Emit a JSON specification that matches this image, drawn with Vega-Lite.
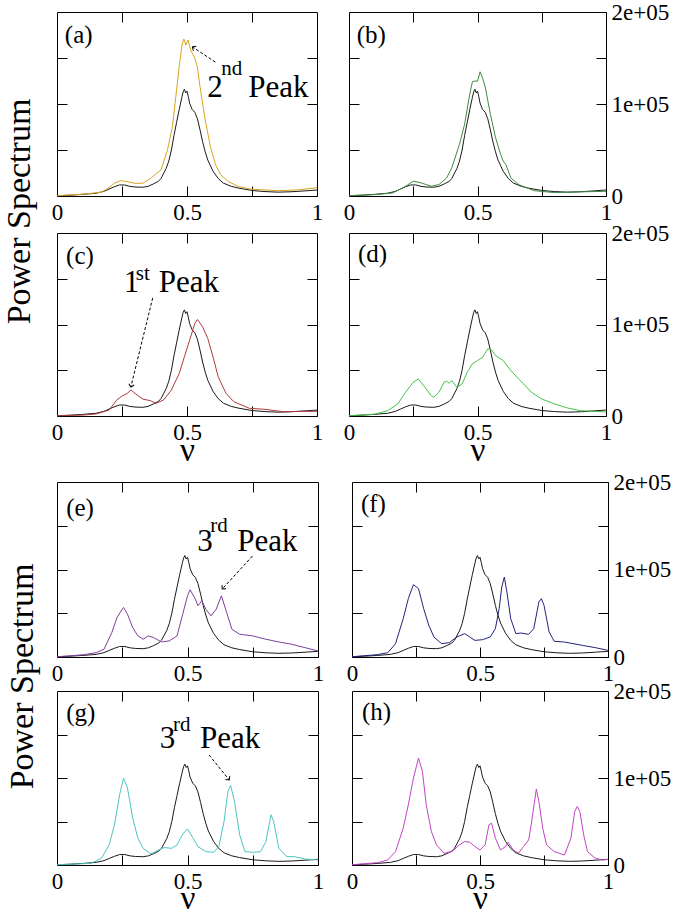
{
"$schema": "https://vega.github.io/schema/vega-lite/v6.json",
"padding": {"left": 1, "top": 0, "right": 5, "bottom": 0},
"background": "white",
"datasets": {
"ref": [{"nu":0,"p":300},{"nu":0.05,"p":900},{"nu":0.1,"p":1800},{"nu":0.15,"p":3000},{"nu":0.18,"p":5000},{"nu":0.2,"p":7500},{"nu":0.22,"p":10000},{"nu":0.24,"p":12000},{"nu":0.26,"p":12000},{"nu":0.28,"p":10500},{"nu":0.3,"p":9800},{"nu":0.33,"p":9500},{"nu":0.35,"p":10500},{"nu":0.37,"p":13000},{"nu":0.39,"p":16000},{"nu":0.4,"p":19000},{"nu":0.42,"p":30000},{"nu":0.43,"p":38000},{"nu":0.44,"p":50000},{"nu":0.45,"p":66000},{"nu":0.46,"p":80000},{"nu":0.47,"p":94000},{"nu":0.48,"p":107000},{"nu":0.485,"p":113000},{"nu":0.49,"p":116000},{"nu":0.495,"p":112000},{"nu":0.5,"p":114000},{"nu":0.505,"p":108000},{"nu":0.51,"p":101000},{"nu":0.52,"p":94000},{"nu":0.53,"p":91000},{"nu":0.54,"p":84000},{"nu":0.55,"p":72000},{"nu":0.56,"p":59000},{"nu":0.57,"p":48000},{"nu":0.58,"p":39000},{"nu":0.6,"p":27000},{"nu":0.62,"p":19000},{"nu":0.64,"p":14000},{"nu":0.67,"p":10500},{"nu":0.7,"p":8500},{"nu":0.75,"p":6000},{"nu":0.8,"p":4800},{"nu":0.85,"p":4200},{"nu":0.9,"p":4600},{"nu":0.95,"p":5500},{"nu":1,"p":6500}],
"a": [{"nu":0,"p":300},{"nu":0.1,"p":2000},{"nu":0.17,"p":4000},{"nu":0.2,"p":9000},{"nu":0.22,"p":13800},{"nu":0.245,"p":16700},{"nu":0.27,"p":15600},{"nu":0.3,"p":13800},{"nu":0.33,"p":13800},{"nu":0.36,"p":19200},{"nu":0.38,"p":24000},{"nu":0.4,"p":28300},{"nu":0.425,"p":50100},{"nu":0.444,"p":75500},{"nu":0.457,"p":108000},{"nu":0.47,"p":140800},{"nu":0.482,"p":166000},{"nu":0.488,"p":170600},{"nu":0.496,"p":164000},{"nu":0.504,"p":169500},{"nu":0.515,"p":158000},{"nu":0.53,"p":150000},{"nu":0.54,"p":140000},{"nu":0.55,"p":119000},{"nu":0.57,"p":82800},{"nu":0.59,"p":53700},{"nu":0.61,"p":33800},{"nu":0.63,"p":22900},{"nu":0.66,"p":15600},{"nu":0.7,"p":10000},{"nu":0.75,"p":7300},{"nu":0.85,"p":5800},{"nu":0.92,"p":6500},{"nu":1,"p":9000}],
"b": [{"nu":0,"p":300},{"nu":0.1,"p":1500},{"nu":0.17,"p":3300},{"nu":0.22,"p":10500},{"nu":0.25,"p":16100},{"nu":0.28,"p":14300},{"nu":0.32,"p":10600},{"nu":0.35,"p":12400},{"nu":0.38,"p":19700},{"nu":0.4,"p":30700},{"nu":0.43,"p":56300},{"nu":0.45,"p":78200},{"nu":0.47,"p":111000},{"nu":0.48,"p":124000},{"nu":0.49,"p":125000},{"nu":0.5,"p":124700},{"nu":0.51,"p":135000},{"nu":0.52,"p":128000},{"nu":0.53,"p":118500},{"nu":0.55,"p":89000},{"nu":0.57,"p":63600},{"nu":0.59,"p":45300},{"nu":0.6,"p":38000},{"nu":0.61,"p":34400},{"nu":0.63,"p":19700},{"nu":0.66,"p":12400},{"nu":0.72,"p":5800},{"nu":0.8,"p":3700},{"nu":0.9,"p":4500},{"nu":1,"p":5100}],
"c": [{"nu":0,"p":300},{"nu":0.1,"p":1000},{"nu":0.15,"p":2200},{"nu":0.2,"p":6500},{"nu":0.23,"p":17500},{"nu":0.25,"p":21800},{"nu":0.27,"p":24700},{"nu":0.285,"p":28400},{"nu":0.3,"p":24700},{"nu":0.33,"p":18500},{"nu":0.36,"p":16700},{"nu":0.38,"p":13800},{"nu":0.41,"p":17500},{"nu":0.44,"p":28400},{"nu":0.47,"p":46500},{"nu":0.49,"p":64700},{"nu":0.51,"p":82900},{"nu":0.53,"p":101000},{"nu":0.54,"p":105500},{"nu":0.56,"p":97500},{"nu":0.58,"p":84700},{"nu":0.6,"p":64700},{"nu":0.62,"p":42900},{"nu":0.65,"p":24700},{"nu":0.68,"p":15600},{"nu":0.74,"p":8400},{"nu":0.8,"p":7300},{"nu":0.87,"p":4700},{"nu":0.95,"p":5100},{"nu":1,"p":5100}],
"d": [{"nu":0,"p":300},{"nu":0.1,"p":2000},{"nu":0.15,"p":5800},{"nu":0.19,"p":13100},{"nu":0.22,"p":25900},{"nu":0.25,"p":36900},{"nu":0.27,"p":40500},{"nu":0.29,"p":33200},{"nu":0.32,"p":22300},{"nu":0.33,"p":20400},{"nu":0.35,"p":25900},{"nu":0.37,"p":36900},{"nu":0.38,"p":38000},{"nu":0.39,"p":35800},{"nu":0.4,"p":38700},{"nu":0.42,"p":31400},{"nu":0.44,"p":35000},{"nu":0.46,"p":47800},{"nu":0.48,"p":57000},{"nu":0.5,"p":60600},{"nu":0.52,"p":64200},{"nu":0.54,"p":73400},{"nu":0.555,"p":72300},{"nu":0.57,"p":66100},{"nu":0.6,"p":60600},{"nu":0.63,"p":49600},{"nu":0.66,"p":40500},{"nu":0.68,"p":35000},{"nu":0.71,"p":25900},{"nu":0.75,"p":18600},{"nu":0.8,"p":13100},{"nu":0.85,"p":8800},{"nu":0.9,"p":5800},{"nu":1,"p":4400}],
"e": [{"nu":0,"p":300},{"nu":0.1,"p":2500},{"nu":0.15,"p":5000},{"nu":0.18,"p":8800},{"nu":0.21,"p":27900},{"nu":0.23,"p":45100},{"nu":0.25,"p":54700},{"nu":0.255,"p":56600},{"nu":0.27,"p":48900},{"nu":0.29,"p":33600},{"nu":0.31,"p":24100},{"nu":0.33,"p":20300},{"nu":0.35,"p":24100},{"nu":0.37,"p":22200},{"nu":0.4,"p":17200},{"nu":0.43,"p":18400},{"nu":0.46,"p":24100},{"nu":0.48,"p":47000},{"nu":0.5,"p":70000},{"nu":0.51,"p":76900},{"nu":0.53,"p":66200},{"nu":0.54,"p":58500},{"nu":0.555,"p":64200},{"nu":0.57,"p":54700},{"nu":0.59,"p":47000},{"nu":0.61,"p":54700},{"nu":0.63,"p":70000},{"nu":0.65,"p":50900},{"nu":0.67,"p":31700},{"nu":0.7,"p":26000},{"nu":0.75,"p":24100},{"nu":0.8,"p":20300},{"nu":0.85,"p":17200},{"nu":0.9,"p":14500},{"nu":0.95,"p":10700},{"nu":1,"p":6900}],
"f": [{"nu":0,"p":300},{"nu":0.1,"p":2700},{"nu":0.14,"p":5000},{"nu":0.17,"p":15200},{"nu":0.2,"p":43800},{"nu":0.22,"p":66700},{"nu":0.24,"p":82700},{"nu":0.26,"p":78100},{"nu":0.28,"p":55200},{"nu":0.3,"p":36200},{"nu":0.32,"p":22900},{"nu":0.35,"p":15200},{"nu":0.38,"p":16400},{"nu":0.41,"p":22900},{"nu":0.44,"p":26700},{"nu":0.46,"p":22900},{"nu":0.48,"p":19000},{"nu":0.51,"p":19800},{"nu":0.54,"p":22900},{"nu":0.56,"p":32400},{"nu":0.575,"p":55200},{"nu":0.585,"p":80000},{"nu":0.595,"p":91400},{"nu":0.605,"p":74300},{"nu":0.62,"p":43800},{"nu":0.64,"p":26700},{"nu":0.66,"p":27400},{"nu":0.69,"p":25900},{"nu":0.71,"p":32400},{"nu":0.73,"p":62900},{"nu":0.74,"p":66700},{"nu":0.75,"p":59100},{"nu":0.77,"p":28600},{"nu":0.79,"p":17900},{"nu":0.83,"p":17100},{"nu":0.9,"p":13300},{"nu":0.95,"p":10700},{"nu":1,"p":7600}],
"g": [{"nu":0,"p":300},{"nu":0.13,"p":1900},{"nu":0.17,"p":7700},{"nu":0.2,"p":23100},{"nu":0.22,"p":46200},{"nu":0.24,"p":80800},{"nu":0.255,"p":100000},{"nu":0.27,"p":88500},{"nu":0.29,"p":53800},{"nu":0.31,"p":30800},{"nu":0.33,"p":19200},{"nu":0.36,"p":12700},{"nu":0.39,"p":17300},{"nu":0.41,"p":20000},{"nu":0.44,"p":19200},{"nu":0.46,"p":23100},{"nu":0.48,"p":34600},{"nu":0.5,"p":41500},{"nu":0.52,"p":31500},{"nu":0.54,"p":21200},{"nu":0.57,"p":15400},{"nu":0.6,"p":14600},{"nu":0.62,"p":21200},{"nu":0.64,"p":50000},{"nu":0.655,"p":84600},{"nu":0.665,"p":91500},{"nu":0.68,"p":73100},{"nu":0.7,"p":34600},{"nu":0.72,"p":15400},{"nu":0.75,"p":14600},{"nu":0.78,"p":15400},{"nu":0.8,"p":26900},{"nu":0.815,"p":50000},{"nu":0.82,"p":57700},{"nu":0.83,"p":50000},{"nu":0.85,"p":19200},{"nu":0.88,"p":9600},{"nu":0.91,"p":9600},{"nu":0.95,"p":6900},{"nu":1,"p":5800}],
"h": [{"nu":0,"p":300},{"nu":0.1,"p":2700},{"nu":0.14,"p":5800},{"nu":0.17,"p":15400},{"nu":0.2,"p":42300},{"nu":0.22,"p":69200},{"nu":0.24,"p":100000},{"nu":0.26,"p":123000},{"nu":0.275,"p":107700},{"nu":0.29,"p":69200},{"nu":0.31,"p":38500},{"nu":0.33,"p":23100},{"nu":0.36,"p":13500},{"nu":0.39,"p":15400},{"nu":0.42,"p":23100},{"nu":0.44,"p":26900},{"nu":0.46,"p":26200},{"nu":0.48,"p":21200},{"nu":0.5,"p":17300},{"nu":0.52,"p":23100},{"nu":0.535,"p":46200},{"nu":0.545,"p":48100},{"nu":0.56,"p":30800},{"nu":0.58,"p":17300},{"nu":0.6,"p":21200},{"nu":0.61,"p":26200},{"nu":0.63,"p":17300},{"nu":0.65,"p":13500},{"nu":0.67,"p":21200},{"nu":0.69,"p":28800},{"nu":0.7,"p":46200},{"nu":0.715,"p":76900},{"nu":0.72,"p":87300},{"nu":0.73,"p":73100},{"nu":0.745,"p":42300},{"nu":0.76,"p":23100},{"nu":0.79,"p":15400},{"nu":0.83,"p":11500},{"nu":0.855,"p":30800},{"nu":0.87,"p":61500},{"nu":0.88,"p":67300},{"nu":0.89,"p":61500},{"nu":0.905,"p":34600},{"nu":0.92,"p":15400},{"nu":0.95,"p":7700},{"nu":0.98,"p":5800},{"nu":1,"p":6500}]
},
"concat": [
{
"concat": [
{"width": 260, "height": 184, "resolve": {"axis": {"x": "independent", "y": "independent"}},
 "layer": [
  {"data": {"name": "ref"}, "mark": {"type": "line", "color": "#1a1a1a"},
   "encoding": {"x": {"field": "nu", "type": "quantitative", "scale": {"domain": [0, 1], "nice": false}, "axis": {"orient": "bottom", "values": [0, 0.25, 0.5, 0.75, 1], "labelExpr": "datum.value == 0 ? '0' : datum.value == 0.5 ? '0.5' : datum.value == 1 ? '1' : ''", "labelPadding": 15, "title": null}},
    "y": {"field": "p", "type": "quantitative", "scale": {"domain": [0, 200000], "nice": false}, "axis": {"orient": "left", "values": [50000, 100000, 150000], "labels": false, "title": "Power Spectrum", "titleFontSize": 34, "titleAngle": 270, "titleX": -28, "titleY": 199, "titleAlign": "center", "titleBaseline": "alphabetic"}}}},
  {"data": {"name": "a"}, "mark": {"type": "line", "color": "#DAA520"},
   "encoding": {"x": {"field": "nu", "type": "quantitative", "axis": {"orient": "top", "values": [0.25, 0.5, 0.75], "labels": false, "title": null}},
    "y": {"field": "p", "type": "quantitative", "axis": {"orient": "right", "values": [50000, 100000, 150000], "labels": false, "title": null}}}},
  {"data": {"values": [{"t": "(a)"}]}, "mark": {"type": "text", "fontSize": 25}, "encoding": {"x": {"datum": 0.03, "type": "quantitative", "axis": null}, "y": {"datum": 166000, "type": "quantitative", "axis": null}, "text": {"field": "t"}}},
  {"data": {"values": [{"t": "2"}]}, "mark": {"type": "text", "fontSize": 31}, "encoding": {"x": {"datum": 0.578, "type": "quantitative", "axis": null}, "y": {"datum": 107600, "type": "quantitative", "axis": null}, "text": {"field": "t"}}},
  {"data": {"values": [{"t": "nd"}]}, "mark": {"type": "text", "fontSize": 21}, "encoding": {"x": {"datum": 0.632, "type": "quantitative", "axis": null}, "y": {"datum": 131500, "type": "quantitative", "axis": null}, "text": {"field": "t"}}},
  {"data": {"values": [{"t": "Peak"}]}, "mark": {"type": "text", "fontSize": 31}, "encoding": {"x": {"datum": 0.736, "type": "quantitative", "axis": null}, "y": {"datum": 107600, "type": "quantitative", "axis": null}, "text": {"field": "t"}}},
  {"data": {"values": [{}]}, "mark": {"type": "rule"}, "encoding": {"x": {"datum": 0.609, "type": "quantitative", "axis": null}, "y": {"datum": 145600, "type": "quantitative", "axis": null}, "x2": {"datum": 0.521}, "y2": {"datum": 162000}}},
  {"data": {"values": [{}]}, "mark": {"type": "point", "angle": 303}, "encoding": {"x": {"datum": 0.521, "type": "quantitative", "axis": null}, "y": {"datum": 162000, "type": "quantitative", "axis": null}}}
 ]},
{"width": 257, "height": 184, "resolve": {"axis": {"x": "independent", "y": "independent"}},
 "layer": [
  {"data": {"name": "ref"}, "mark": {"type": "line", "color": "#1a1a1a"},
   "encoding": {"x": {"field": "nu", "type": "quantitative", "scale": {"domain": [0, 1], "nice": false}, "axis": {"orient": "bottom", "values": [0, 0.25, 0.5, 0.75, 1], "labelExpr": "datum.value == 0 ? '0' : datum.value == 0.5 ? '0.5' : datum.value == 1 ? '1' : ''", "labelPadding": 15, "title": null}},
    "y": {"field": "p", "type": "quantitative", "scale": {"domain": [0, 200000], "nice": false}, "axis": {"orient": "left", "values": [50000, 100000, 150000], "labels": false, "title": null}}}},
  {"data": {"name": "b"}, "mark": {"type": "line", "color": "#3F8A45"},
   "encoding": {"x": {"field": "nu", "type": "quantitative", "axis": {"orient": "top", "values": [0.25, 0.5, 0.75], "labels": false, "title": null}},
    "y": {"field": "p", "type": "quantitative", "axis": {"orient": "right", "values": [0, 50000, 100000, 150000, 200000], "labelExpr": "datum.value == 0 ? '0' : datum.value == 100000 ? '1e+05' : datum.value == 200000 ? '2e+05' : ''", "labelPadding": 15, "title": null}}}},
  {"data": {"values": [{"t": "(b)"}]}, "mark": {"type": "text", "fontSize": 25}, "encoding": {"x": {"datum": 0.03, "type": "quantitative", "axis": null}, "y": {"datum": 166000, "type": "quantitative", "axis": null}, "text": {"field": "t"}}}
 ]},
{"width": 260, "height": 183, "resolve": {"axis": {"x": "independent", "y": "independent"}},
 "layer": [
  {"data": {"name": "ref"}, "mark": {"type": "line", "color": "#1a1a1a"},
   "encoding": {"x": {"field": "nu", "type": "quantitative", "scale": {"domain": [0, 1], "nice": false}, "axis": {"orient": "bottom", "values": [0, 0.25, 0.5, 0.75, 1], "labelExpr": "datum.value == 0 ? '0' : datum.value == 0.5 ? '0.5' : datum.value == 1 ? '1' : ''", "labelPadding": 15, "title": "ν", "titleFontSize": 33, "titlePadding": -10}},
    "y": {"field": "p", "type": "quantitative", "scale": {"domain": [0, 200000], "nice": false}, "axis": {"orient": "left", "values": [50000, 100000, 150000], "labels": false, "title": null}}}},
  {"data": {"name": "c"}, "mark": {"type": "line", "color": "#B03A3A"},
   "encoding": {"x": {"field": "nu", "type": "quantitative", "axis": {"orient": "top", "values": [0.25, 0.5, 0.75], "labels": false, "title": null}},
    "y": {"field": "p", "type": "quantitative", "axis": {"orient": "right", "values": [50000, 100000, 150000], "labels": false, "title": null}}}},
  {"data": {"values": [{"t": "(c)"}]}, "mark": {"type": "text", "fontSize": 25}, "encoding": {"x": {"datum": 0.035, "type": "quantitative", "axis": null}, "y": {"datum": 166000, "type": "quantitative", "axis": null}, "text": {"field": "t"}}},
  {"data": {"values": [{"t": "1"}]}, "mark": {"type": "text", "fontSize": 31}, "encoding": {"x": {"datum": 0.257, "type": "quantitative", "axis": null}, "y": {"datum": 135500, "type": "quantitative", "axis": null}, "text": {"field": "t"}}},
  {"data": {"values": [{"t": "st"}]}, "mark": {"type": "text", "fontSize": 21}, "encoding": {"x": {"datum": 0.303, "type": "quantitative", "axis": null}, "y": {"datum": 148600, "type": "quantitative", "axis": null}, "text": {"field": "t"}}},
  {"data": {"values": [{"t": "Peak"}]}, "mark": {"type": "text", "fontSize": 31}, "encoding": {"x": {"datum": 0.391, "type": "quantitative", "axis": null}, "y": {"datum": 135500, "type": "quantitative", "axis": null}, "text": {"field": "t"}}},
  {"data": {"values": [{}]}, "mark": {"type": "rule"}, "encoding": {"x": {"datum": 0.368, "type": "quantitative", "axis": null}, "y": {"datum": 129000, "type": "quantitative", "axis": null}, "x2": {"datum": 0.284}, "y2": {"datum": 31700}}},
  {"data": {"values": [{}]}, "mark": {"type": "point", "angle": 194}, "encoding": {"x": {"datum": 0.284, "type": "quantitative", "axis": null}, "y": {"datum": 31700, "type": "quantitative", "axis": null}}}
 ]},
{"width": 257, "height": 183, "resolve": {"axis": {"x": "independent", "y": "independent"}},
 "layer": [
  {"data": {"name": "ref"}, "mark": {"type": "line", "color": "#1a1a1a"},
   "encoding": {"x": {"field": "nu", "type": "quantitative", "scale": {"domain": [0, 1], "nice": false}, "axis": {"orient": "bottom", "values": [0, 0.25, 0.5, 0.75, 1], "labelExpr": "datum.value == 0 ? '0' : datum.value == 0.5 ? '0.5' : datum.value == 1 ? '1' : ''", "labelPadding": 15, "title": "ν", "titleFontSize": 33, "titlePadding": -10}},
    "y": {"field": "p", "type": "quantitative", "scale": {"domain": [0, 200000], "nice": false}, "axis": {"orient": "left", "values": [50000, 100000, 150000], "labels": false, "title": null}}}},
  {"data": {"name": "d"}, "mark": {"type": "line", "color": "#45C245"},
   "encoding": {"x": {"field": "nu", "type": "quantitative", "axis": {"orient": "top", "values": [0.25, 0.5, 0.75], "labels": false, "title": null}},
    "y": {"field": "p", "type": "quantitative", "axis": {"orient": "right", "values": [0, 50000, 100000, 150000, 200000], "labelExpr": "datum.value == 0 ? '0' : datum.value == 100000 ? '1e+05' : datum.value == 200000 ? '2e+05' : ''", "labelPadding": 15, "title": null}}}},
  {"data": {"values": [{"t": "(d)"}]}, "mark": {"type": "text", "fontSize": 25}, "encoding": {"x": {"datum": 0.035, "type": "quantitative", "axis": null}, "y": {"datum": 168000, "type": "quantitative", "axis": null}, "text": {"field": "t"}}}
 ]}
],
"columns": 2, "bounds": "flush", "spacing": {"row": 37, "column": 32}
},
{
"concat": [
{"width": 261, "height": 175, "resolve": {"axis": {"x": "independent", "y": "independent"}},
 "layer": [
  {"data": {"name": "ref"}, "mark": {"type": "line", "color": "#1a1a1a"},
   "encoding": {"x": {"field": "nu", "type": "quantitative", "scale": {"domain": [0, 1], "nice": false}, "axis": {"orient": "bottom", "values": [0, 0.25, 0.5, 0.75, 1], "labelExpr": "datum.value == 0 ? '0' : datum.value == 0.5 ? '0.5' : datum.value == 1 ? '1' : ''", "labelPadding": 15, "title": null}},
    "y": {"field": "p", "type": "quantitative", "scale": {"domain": [0, 200000], "nice": false}, "axis": {"orient": "left", "values": [50000, 100000, 150000], "labels": false, "title": "Power Spectrum", "titleFontSize": 34, "titleAngle": 270, "titleX": -25, "titleY": 194, "titleAlign": "center", "titleBaseline": "alphabetic"}}}},
  {"data": {"name": "e"}, "mark": {"type": "line", "color": "#7E3F9C"},
   "encoding": {"x": {"field": "nu", "type": "quantitative", "axis": {"orient": "top", "values": [0.25, 0.5, 0.75], "labels": false, "title": null}},
    "y": {"field": "p", "type": "quantitative", "axis": {"orient": "right", "values": [50000, 100000, 150000], "labels": false, "title": null}}}},
  {"data": {"values": [{"t": "(e)"}]}, "mark": {"type": "text", "fontSize": 25}, "encoding": {"x": {"datum": 0.035, "type": "quantitative", "axis": null}, "y": {"datum": 161000, "type": "quantitative", "axis": null}, "text": {"field": "t"}}},
  {"data": {"values": [{"t": "3"}]}, "mark": {"type": "text", "fontSize": 31}, "encoding": {"x": {"datum": 0.537, "type": "quantitative", "axis": null}, "y": {"datum": 121100, "type": "quantitative", "axis": null}, "text": {"field": "t"}}},
  {"data": {"values": [{"t": "rd"}]}, "mark": {"type": "text", "fontSize": 21}, "encoding": {"x": {"datum": 0.587, "type": "quantitative", "axis": null}, "y": {"datum": 142900, "type": "quantitative", "axis": null}, "text": {"field": "t"}}},
  {"data": {"values": [{"t": "Peak"}]}, "mark": {"type": "text", "fontSize": 31}, "encoding": {"x": {"datum": 0.691, "type": "quantitative", "axis": null}, "y": {"datum": 121100, "type": "quantitative", "axis": null}, "text": {"field": "t"}}},
  {"data": {"values": [{}]}, "mark": {"type": "rule"}, "encoding": {"x": {"datum": 0.749, "type": "quantitative", "axis": null}, "y": {"datum": 115400, "type": "quantitative", "axis": null}, "x2": {"datum": 0.633}, "y2": {"datum": 77700}}},
  {"data": {"values": [{}]}, "mark": {"type": "point", "angle": 222}, "encoding": {"x": {"datum": 0.633, "type": "quantitative", "axis": null}, "y": {"datum": 77700, "type": "quantitative", "axis": null}}}
 ]},
{"width": 256, "height": 175, "resolve": {"axis": {"x": "independent", "y": "independent"}},
 "layer": [
  {"data": {"name": "ref"}, "mark": {"type": "line", "color": "#1a1a1a"},
   "encoding": {"x": {"field": "nu", "type": "quantitative", "scale": {"domain": [0, 1], "nice": false}, "axis": {"orient": "bottom", "values": [0, 0.25, 0.5, 0.75, 1], "labelExpr": "datum.value == 0 ? '0' : datum.value == 0.5 ? '0.5' : datum.value == 1 ? '1' : ''", "labelPadding": 15, "title": null}},
    "y": {"field": "p", "type": "quantitative", "scale": {"domain": [0, 200000], "nice": false}, "axis": {"orient": "left", "values": [50000, 100000, 150000], "labels": false, "title": null}}}},
  {"data": {"name": "f"}, "mark": {"type": "line", "color": "#23237E"},
   "encoding": {"x": {"field": "nu", "type": "quantitative", "axis": {"orient": "top", "values": [0.25, 0.5, 0.75], "labels": false, "title": null}},
    "y": {"field": "p", "type": "quantitative", "axis": {"orient": "right", "values": [0, 50000, 100000, 150000, 200000], "labelExpr": "datum.value == 0 ? '0' : datum.value == 100000 ? '1e+05' : datum.value == 200000 ? '2e+05' : ''", "labelPadding": 15, "title": null}}}},
  {"data": {"values": [{"t": "(f)"}]}, "mark": {"type": "text", "fontSize": 25}, "encoding": {"x": {"datum": 0.035, "type": "quantitative", "axis": null}, "y": {"datum": 165700, "type": "quantitative", "axis": null}, "text": {"field": "t"}}}
 ]},
{"width": 261, "height": 174, "resolve": {"axis": {"x": "independent", "y": "independent"}},
 "layer": [
  {"data": {"name": "ref"}, "mark": {"type": "line", "color": "#1a1a1a"},
   "encoding": {"x": {"field": "nu", "type": "quantitative", "scale": {"domain": [0, 1], "nice": false}, "axis": {"orient": "bottom", "values": [0, 0.25, 0.5, 0.75, 1], "labelExpr": "datum.value == 0 ? '0' : datum.value == 0.5 ? '0.5' : datum.value == 1 ? '1' : ''", "labelPadding": 15, "title": "ν", "titleFontSize": 33, "titlePadding": -11}},
    "y": {"field": "p", "type": "quantitative", "scale": {"domain": [0, 200000], "nice": false}, "axis": {"orient": "left", "values": [50000, 100000, 150000], "labels": false, "title": null}}}},
  {"data": {"name": "g"}, "mark": {"type": "line", "color": "#4CC4C0"},
   "encoding": {"x": {"field": "nu", "type": "quantitative", "axis": {"orient": "top", "values": [0.25, 0.5, 0.75], "labels": false, "title": null}},
    "y": {"field": "p", "type": "quantitative", "axis": {"orient": "right", "values": [50000, 100000, 150000], "labels": false, "title": null}}}},
  {"data": {"values": [{"t": "(g)"}]}, "mark": {"type": "text", "fontSize": 25}, "encoding": {"x": {"datum": 0.035, "type": "quantitative", "axis": null}, "y": {"datum": 165500, "type": "quantitative", "axis": null}, "text": {"field": "t"}}},
  {"data": {"values": [{"t": "3"}]}, "mark": {"type": "text", "fontSize": 31}, "encoding": {"x": {"datum": 0.394, "type": "quantitative", "axis": null}, "y": {"datum": 134500, "type": "quantitative", "axis": null}, "text": {"field": "t"}}},
  {"data": {"values": [{"t": "rd"}]}, "mark": {"type": "text", "fontSize": 21}, "encoding": {"x": {"datum": 0.444, "type": "quantitative", "axis": null}, "y": {"datum": 154000, "type": "quantitative", "axis": null}, "text": {"field": "t"}}},
  {"data": {"values": [{"t": "Peak"}]}, "mark": {"type": "text", "fontSize": 31}, "encoding": {"x": {"datum": 0.548, "type": "quantitative", "axis": null}, "y": {"datum": 134500, "type": "quantitative", "axis": null}, "text": {"field": "t"}}},
  {"data": {"values": [{}]}, "mark": {"type": "rule"}, "encoding": {"x": {"datum": 0.583, "type": "quantitative", "axis": null}, "y": {"datum": 126400, "type": "quantitative", "axis": null}, "x2": {"datum": 0.66}, "y2": {"datum": 97700}}},
  {"data": {"values": [{}]}, "mark": {"type": "point", "angle": 141}, "encoding": {"x": {"datum": 0.66, "type": "quantitative", "axis": null}, "y": {"datum": 97700, "type": "quantitative", "axis": null}}}
 ]},
{"width": 256, "height": 174, "resolve": {"axis": {"x": "independent", "y": "independent"}},
 "layer": [
  {"data": {"name": "ref"}, "mark": {"type": "line", "color": "#1a1a1a"},
   "encoding": {"x": {"field": "nu", "type": "quantitative", "scale": {"domain": [0, 1], "nice": false}, "axis": {"orient": "bottom", "values": [0, 0.25, 0.5, 0.75, 1], "labelExpr": "datum.value == 0 ? '0' : datum.value == 0.5 ? '0.5' : datum.value == 1 ? '1' : ''", "labelPadding": 15, "title": "ν", "titleFontSize": 33, "titlePadding": -11}},
    "y": {"field": "p", "type": "quantitative", "scale": {"domain": [0, 200000], "nice": false}, "axis": {"orient": "left", "values": [50000, 100000, 150000], "labels": false, "title": null}}}},
  {"data": {"name": "h"}, "mark": {"type": "line", "color": "#C044C4"},
   "encoding": {"x": {"field": "nu", "type": "quantitative", "axis": {"orient": "top", "values": [0.25, 0.5, 0.75], "labels": false, "title": null}},
    "y": {"field": "p", "type": "quantitative", "axis": {"orient": "right", "values": [0, 50000, 100000, 150000, 200000], "labelExpr": "datum.value == 0 ? '0' : datum.value == 100000 ? '1e+05' : datum.value == 200000 ? '2e+05' : ''", "labelPadding": 15, "title": null}}}},
  {"data": {"values": [{"t": "(h)"}]}, "mark": {"type": "text", "fontSize": 25}, "encoding": {"x": {"datum": 0.039, "type": "quantitative", "axis": null}, "y": {"datum": 166700, "type": "quantitative", "axis": null}, "text": {"field": "t"}}}
 ]}
],
"columns": 2, "bounds": "flush", "spacing": {"row": 34, "column": 34}
}
],
"columns": 1, "spacing": 2,
"config": {
 "view": {"stroke": "black", "strokeWidth": 1},
 "axis": {"grid": false, "domain": false, "tickSize": -10, "tickColor": "black", "tickWidth": 1, "labelFont": "serif", "labelFontSize": 23, "labelColor": "black", "labelFlush": false, "labelOverlap": false, "titleFont": "serif", "titleColor": "black", "titleFontWeight": "normal"},
 "line": {"strokeWidth": 1},
 "text": {"font": "serif", "align": "left", "baseline": "alphabetic", "color": "black"},
 "rule": {"strokeDash": [3, 2], "color": "black", "strokeWidth": 1},
 "point": {"shape": "M-1,1L0,0L1,1", "filled": false, "color": "black", "size": 30, "strokeWidth": 1, "opacity": 1}
}
}
